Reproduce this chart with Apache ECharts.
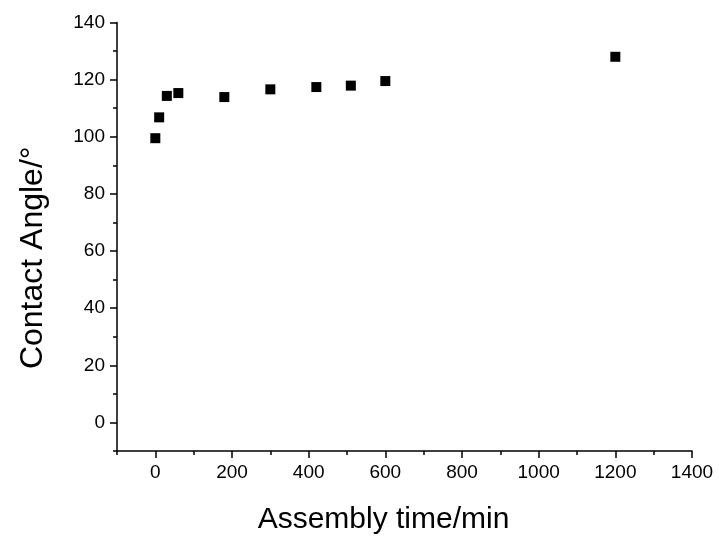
<!DOCTYPE html>
<html>
<head>
<meta charset="utf-8">
<script src="https://cdn.jsdelivr.net/npm/echarts@6/dist/echarts.min.js"></script>
<style>html,body{margin:0;padding:0;background:#fff}#c{width:719px;height:542px}</style>
</head>
<body>
<div id="c"></div>
<script>
var assemblyTime = [0, 10, 30, 60, 180, 300, 420, 510, 600, 1200];
var contactAngle = [99.5, 106.8, 114.3, 115.3, 113.9, 116.6, 117.4, 117.9, 119.5, 128];
var xTicks = [0, 200, 400, 600, 800, 1000, 1200, 1400];
var xMinorTicks = [-100, 100, 300, 500, 700, 900, 1100, 1300];
var yTicks = [0, 20, 40, 60, 80, 100, 120, 140];
var yMinorTicks = [-10, 10, 30, 50, 70, 90, 110, 130];

var FONT = 'Liberation Sans, Arial, sans-serif';
var chart = echarts.init(document.getElementById('c'));
var pts = assemblyTime.map(function (t, i) { return [t, contactAngle[i]]; });
var plain = function (v) { return String(v); };

chart.setOption({
  animation: false,
  backgroundColor: '#fff',
  grid: { left: 117, right: 27, top: 22.5, bottom: 91, outerBoundsMode: 'none' },
  xAxis: [{
    type: 'value', min: -100, max: 1400, position: 'bottom',
    name: 'Assembly time/min', nameLocation: 'middle', nameGap: 54,
    nameTextStyle: { fontFamily: FONT, fontSize: 30, color: '#000', padding: [0, 42, 0, 0] },
    axisLine: { show: true, onZero: false, lineStyle: { color: '#000', width: 1.5 } },
    axisTick: { show: true, inside: false, length: 7, customValues: xTicks, lineStyle: { color: '#000', width: 1.5 } },
    axisLabel: { customValues: xTicks, formatter: plain, margin: 12, fontFamily: FONT, fontSize: 19, color: '#000' },
    splitLine: { show: false }
  }, {
    type: 'value', min: -100, max: 1400, position: 'bottom',
    axisLine: { show: false, onZero: false },
    axisTick: { show: true, inside: false, length: 4, customValues: xMinorTicks, lineStyle: { color: '#000', width: 1.5 } },
    axisLabel: { show: false },
    splitLine: { show: false }
  }],
  yAxis: [{
    type: 'value', min: -10, max: 140, position: 'left',
    name: 'Contact Angle/°', nameLocation: 'middle', nameGap: 68,
    nameTextStyle: { fontFamily: FONT, fontSize: 32, color: '#000', padding: [0, 42, 0, 0] },
    axisLine: { show: true, onZero: false, lineStyle: { color: '#000', width: 1.5 } },
    axisTick: { show: true, inside: false, length: 7, customValues: yTicks, lineStyle: { color: '#000', width: 1.5 } },
    axisLabel: { customValues: yTicks, formatter: plain, margin: 12, fontFamily: FONT, fontSize: 19, color: '#000' },
    splitLine: { show: false }
  }, {
    type: 'value', min: -10, max: 140, position: 'left',
    axisLine: { show: false, onZero: false },
    axisTick: { show: true, inside: false, length: 4, customValues: yMinorTicks, lineStyle: { color: '#000', width: 1.5 } },
    axisLabel: { show: false },
    splitLine: { show: false }
  }],
  series: [{
    type: 'scatter',
    xAxisIndex: 0, yAxisIndex: 0,
    data: pts,
    symbol: 'rect',
    symbolSize: 10,
    itemStyle: { color: '#000', opacity: 1 }
  }]
});
</script>
</body>
</html>
